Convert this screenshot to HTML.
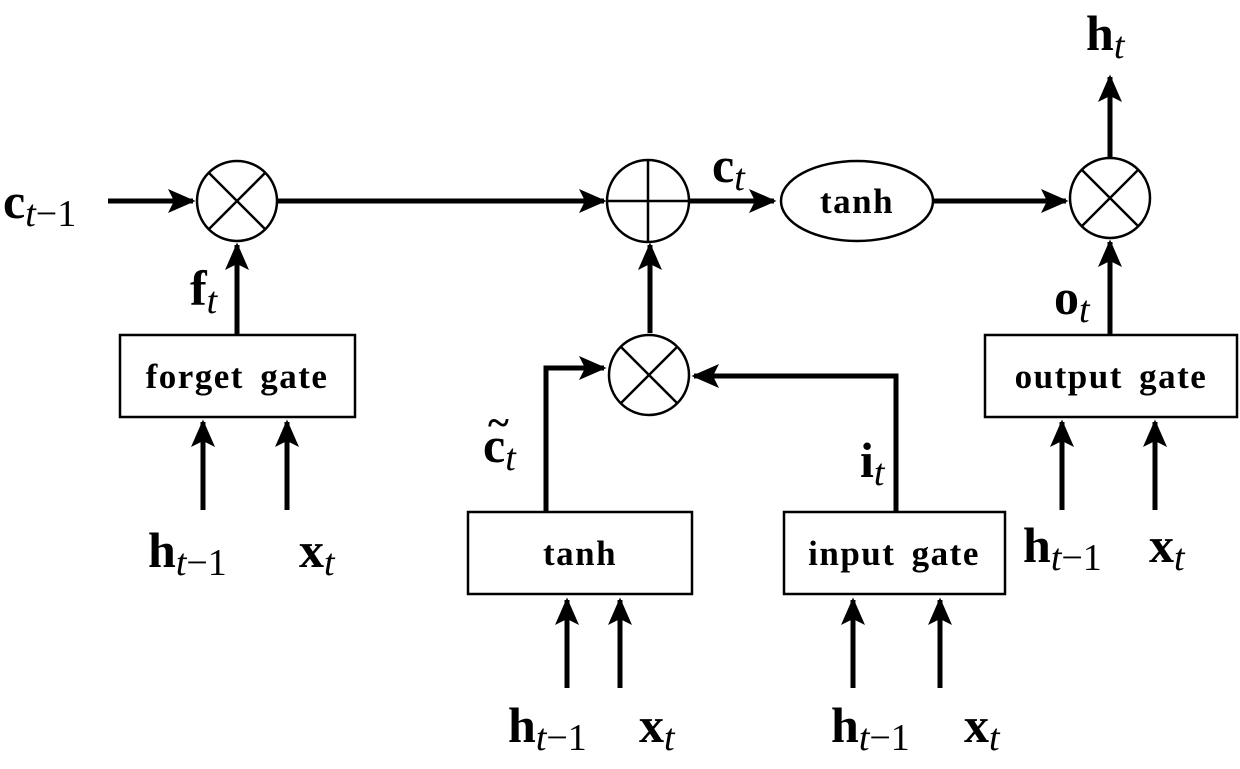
<!DOCTYPE html>
<html><head><meta charset="utf-8"><style>
html,body{margin:0;padding:0;background:#fff;}
svg{display:block}
.b{font-family:"Liberation Serif",serif;font-weight:bold;font-size:50px;fill:#000}
.s{font-family:"Liberation Serif",serif;font-style:italic;font-weight:normal;font-size:38px;fill:#000}
.n{font-family:"Liberation Serif",serif;font-weight:normal;font-size:38px;fill:#000}
.bx{font-family:"Liberation Serif",serif;font-weight:bold;font-size:35px;letter-spacing:1.5px;word-spacing:6px;fill:#000}
</style></head><body>
<svg width="1240" height="769" viewBox="0 0 1240 769" xmlns="http://www.w3.org/2000/svg">
<defs>
<marker id="a" markerWidth="6" markerHeight="6" refX="5" refY="3" orient="auto" markerUnits="strokeWidth">
<path d="M0,0.6 L5.5,3 L0,5.4 L1.2,3 Z" fill="#000"/></marker>
</defs>
<g stroke="#000" stroke-width="5" fill="none" marker-end="url(#a)">
<line x1="108" y1="201" x2="193" y2="201"/>
<line x1="277" y1="201" x2="604" y2="201"/>
<line x1="690" y1="201" x2="774" y2="201"/>
<line x1="934" y1="201" x2="1066" y2="201"/>
<line x1="1110" y1="158" x2="1110" y2="77"/>
<line x1="1110" y1="335" x2="1110" y2="242"/>
<line x1="237" y1="335" x2="237" y2="245"/>
<line x1="650" y1="333" x2="650" y2="245"/>
<polyline points="546,512 546,368 604,368"/>
<polyline points="896,512 896,376 694,376"/>
<line x1="203" y1="510" x2="203" y2="422"/>
<line x1="287" y1="510" x2="287" y2="422"/>
<line x1="1062" y1="510" x2="1062" y2="422"/>
<line x1="1155" y1="510" x2="1155" y2="422"/>
<line x1="567" y1="688" x2="567" y2="600"/>
<line x1="620" y1="688" x2="620" y2="600"/>
<line x1="853" y1="688" x2="853" y2="600"/>
<line x1="940" y1="688" x2="940" y2="600"/>
</g>
<g stroke="#000" stroke-width="2.5" fill="#fff">
<circle cx="237" cy="201" r="40"/>
<circle cx="648" cy="201" r="41"/>
<circle cx="1110" cy="198" r="40"/>
<circle cx="649" cy="375" r="40"/>
<ellipse cx="857" cy="201" rx="76" ry="40"/>
<rect x="120" y="335" width="235" height="82"/>
<rect x="985" y="335" width="252" height="82"/>
<rect x="468" y="512" width="224" height="82"/>
<rect x="784" y="512" width="221" height="82"/>
</g>
<g stroke="#000" stroke-width="2.5">
<line x1="209" y1="173" x2="265" y2="229"/><line x1="265" y1="173" x2="209" y2="229"/>
<line x1="1082" y1="170" x2="1138" y2="226"/><line x1="1138" y1="170" x2="1082" y2="226"/>
<line x1="621" y1="347" x2="677" y2="403"/><line x1="677" y1="347" x2="621" y2="403"/>
<line x1="607" y1="201" x2="689" y2="201"/><line x1="648" y1="160" x2="648" y2="242"/>
</g>
<text class="bx" x="237" y="388" text-anchor="middle">forget gate</text>
<text class="bx" x="1111" y="388" text-anchor="middle">output gate</text>
<text class="bx" x="580" y="565" text-anchor="middle">tanh</text>
<text class="bx" x="894" y="565" text-anchor="middle">input gate</text>
<text class="bx" x="857" y="213" text-anchor="middle">tanh</text>
<!-- labels -->
<text x="3" y="218"><tspan class="b">c</tspan><tspan class="s" dy="8">t</tspan><tspan class="n">−1</tspan></text>
<text x="712" y="182"><tspan class="b">c</tspan><tspan class="s" dy="8">t</tspan></text>
<text x="1086" y="50"><tspan class="b">h</tspan><tspan class="s" dy="8">t</tspan></text>
<text x="1054" y="314"><tspan class="b">o</tspan><tspan class="s" dy="8">t</tspan></text>
<text x="190" y="305"><tspan class="b">f</tspan><tspan class="s" dy="8">t</tspan></text>
<text x="483" y="462"><tspan class="b">c</tspan><tspan class="s" dy="8">t</tspan></text>
<text class="b" x="488" y="436" style="font-size:40px">~</text>
<text x="860" y="477"><tspan class="b">i</tspan><tspan class="s" dy="8">t</tspan></text>
<text x="148" y="567"><tspan class="b">h</tspan><tspan class="s" dy="8">t</tspan><tspan class="n">−1</tspan></text>
<text x="299" y="567"><tspan class="b">x</tspan><tspan class="s" dy="8">t</tspan></text>
<text x="1023" y="562"><tspan class="b">h</tspan><tspan class="s" dy="8">t</tspan><tspan class="n">−1</tspan></text>
<text x="1149" y="562"><tspan class="b">x</tspan><tspan class="s" dy="8">t</tspan></text>
<text x="508" y="742"><tspan class="b">h</tspan><tspan class="s" dy="8">t</tspan><tspan class="n">−1</tspan></text>
<text x="639" y="742"><tspan class="b">x</tspan><tspan class="s" dy="8">t</tspan></text>
<text x="831" y="742"><tspan class="b">h</tspan><tspan class="s" dy="8">t</tspan><tspan class="n">−1</tspan></text>
<text x="964" y="742"><tspan class="b">x</tspan><tspan class="s" dy="8">t</tspan></text>
</svg>
</body></html>
